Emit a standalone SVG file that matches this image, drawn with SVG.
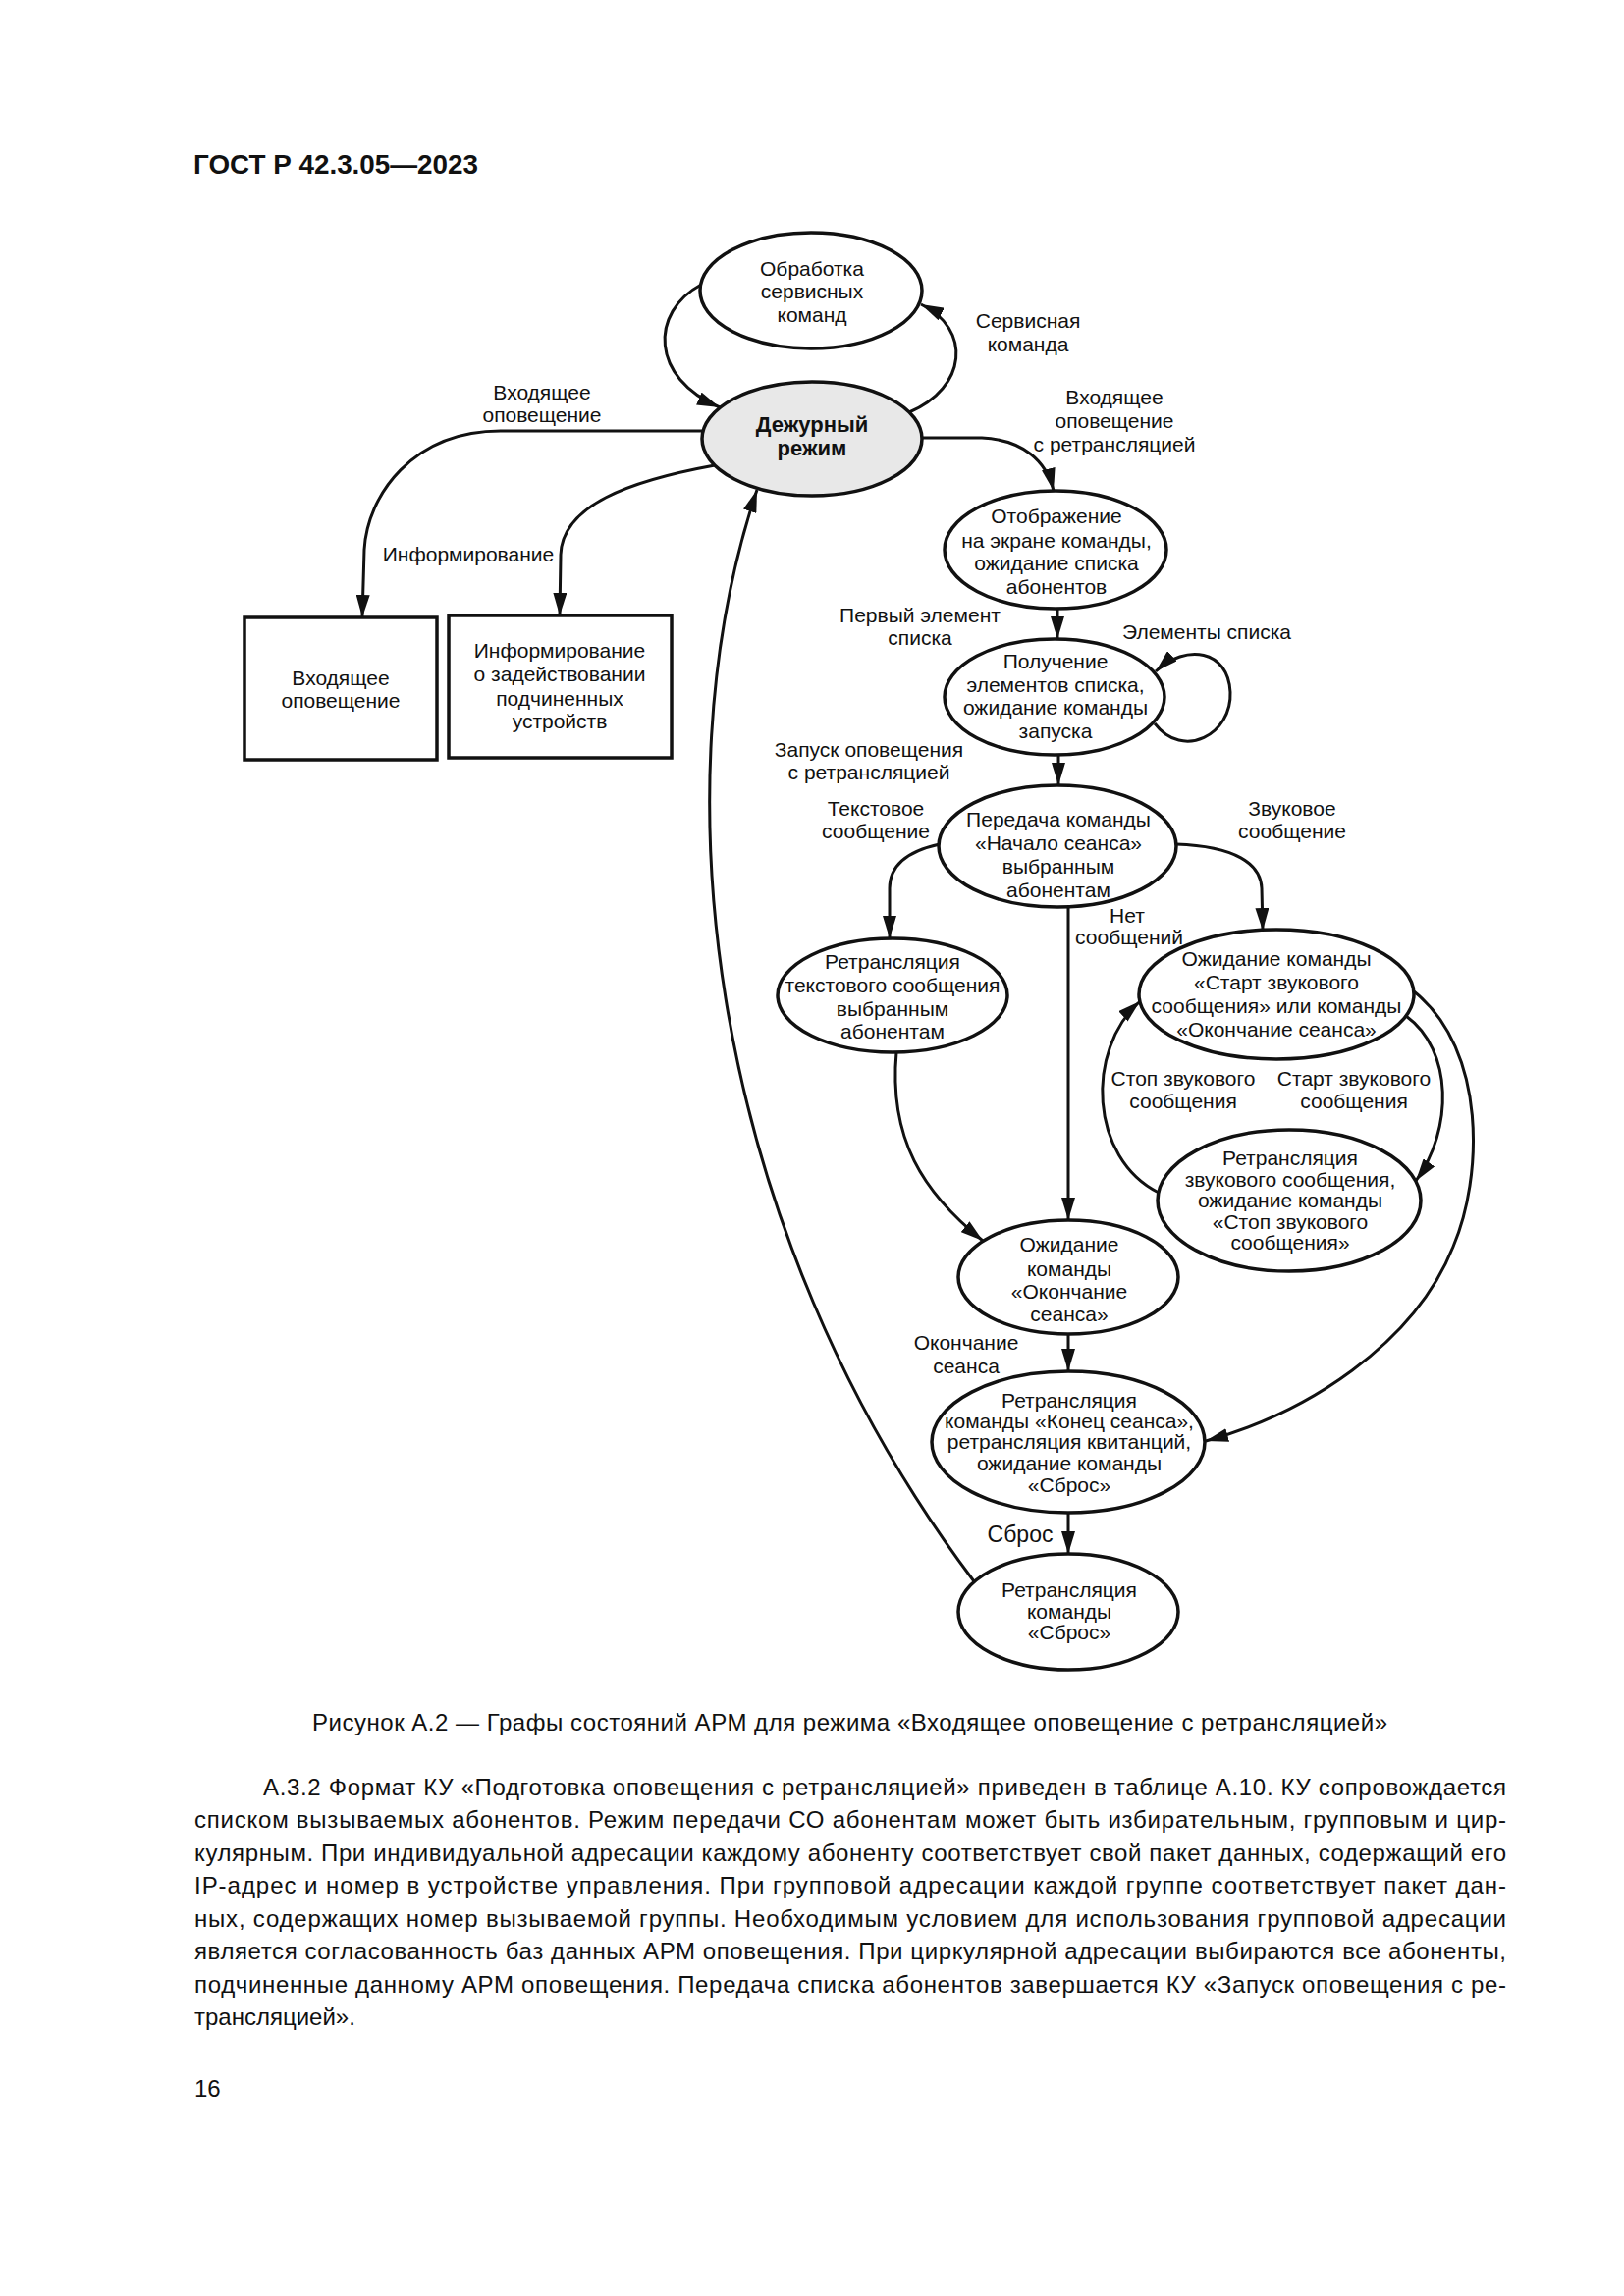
<svg xmlns="http://www.w3.org/2000/svg" width="1654" height="2339" viewBox="0 0 1654 2339">
<defs>
<style>
text{font-family:"Liberation Sans",Arial,sans-serif;fill:#111}
.t{font-size:21px;text-anchor:middle}
.b{font-size:22px;font-weight:bold;text-anchor:middle}
.node{fill:#fff;stroke:#111;stroke-width:3.5}
.gray{fill:#e8e8e8}
.c{fill:none;stroke:#111;stroke-width:3;marker-end:url(#ah)}
.p{font-size:24px}
</style>
<marker id="ah" markerUnits="userSpaceOnUse" markerWidth="24" markerHeight="14" refX="23" refY="7" orient="auto">
<path d="M0,0 L23,7 L0,14 z" fill="#111"/>
</marker>
</defs>
<rect width="1654" height="2339" fill="#fff"/>
<text x="197" y="177" style="font-size:27px;font-weight:bold" textLength="290" lengthAdjust="spacingAndGlyphs">ГОСТ Р 42.3.05—2023</text>

<g id="connectors">
<path class="c" d="M714 290 C662 318 662 385 733 415"/>
<path class="c" d="M926 420 C985 395 990 335 938 310"/>
<path class="c" d="M939 446 L1000 446 C1042 448 1066 470 1073 500"/>
<path class="c" d="M715 439 L510 439 C420 439 374 505 371 560 L369 629"/>
<path class="c" d="M728 474 C640 490 573 515 571 565 L570 627"/>
<path class="c" d="M1077 620 L1077 651"/>
<path class="c" d="M1176 737 C1205 775 1255 748 1253 705 C1251 662 1208 655 1177 684"/>
<path class="c" d="M1078 769 L1078 800"/>
<path class="c" d="M957 860 C920 868 906 885 906 905 L906 956"/>
<path class="c" d="M1198 860 C1258 862 1284 880 1285 905 L1286 948"/>
<path class="c" d="M1088 924 L1088 1243"/>
<path class="c" d="M913 1072 C905 1160 940 1215 1001 1264"/>
<path class="c" d="M1432 1035 C1480 1070 1480 1150 1442 1203"/>
<path class="c" d="M1180 1215 C1110 1180 1105 1070 1161 1020"/>
<path class="c" d="M1440 1010 C1515 1070 1510 1200 1480 1270 C1440 1370 1330 1440 1228 1468"/>
<path class="c" d="M1088 1359 L1088 1397"/>
<path class="c" d="M1088 1541 L1088 1583"/>
<path class="c" d="M992 1611 C720 1250 670 800 771 499"/>
</g>

<g id="labels">
<text class="t" x="1047" y="334">Сервисная</text>
<text class="t" x="1047" y="358">команда</text>
<text class="t" x="1135" y="412">Входящее</text>
<text class="t" x="1135" y="436">оповещение</text>
<text class="t" x="1135" y="460">с ретрансляцией</text>
<text class="t" x="552" y="407">Входящее</text>
<text class="t" x="552" y="430">оповещение</text>
<text class="t" x="477" y="572">Информирование</text>
<text class="t" x="937" y="634">Первый элемент</text>
<text class="t" x="937" y="657">списка</text>
<text class="t" x="1229" y="651">Элементы списка</text>
<text class="t" x="885" y="771">Запуск оповещения</text>
<text class="t" x="885" y="794">с ретрансляцией</text>
<text class="t" x="892" y="831">Текстовое</text>
<text class="t" x="892" y="854">сообщение</text>
<text class="t" x="1316" y="831">Звуковое</text>
<text class="t" x="1316" y="854">сообщение</text>
<text class="t" x="1148" y="940">Нет</text>
<text class="t" x="1150" y="962">сообщений</text>
<text class="t" x="1205" y="1106">Стоп звукового</text>
<text class="t" x="1205" y="1129">сообщения</text>
<text class="t" x="1379" y="1106">Старт звукового</text>
<text class="t" x="1379" y="1129">сообщения</text>
<text class="t" x="984" y="1375">Окончание</text>
<text class="t" x="984" y="1399">сеанса</text>
<text class="t" x="1039" y="1571" style="font-size:23px">Сброс</text>
</g>

<g id="n-service">
<ellipse class="node" cx="826" cy="296" rx="113" ry="59"/>
<text class="t" x="827" y="281">Обработка</text>
<text class="t" x="827" y="304">сервисных</text>
<text class="t" x="827" y="328">команд</text>
</g>
<g id="n-duty">
<ellipse class="node gray" cx="827" cy="447" rx="112" ry="58"/>
<text class="b" x="827" y="440">Дежурный</text>
<text class="b" x="827" y="464">режим</text>
</g>
<g id="n-display">
<ellipse class="node" cx="1075" cy="560" rx="113" ry="60"/>
<text class="t" x="1076" y="533">Отображение</text>
<text class="t" x="1076" y="558">на экране команды,</text>
<text class="t" x="1076" y="581">ожидание списка</text>
<text class="t" x="1076" y="605">абонентов</text>
</g>
<g id="n-receive">
<ellipse class="node" cx="1074" cy="710" rx="112" ry="59"/>
<text class="t" x="1075" y="681">Получение</text>
<text class="t" x="1075" y="705">элементов списка,</text>
<text class="t" x="1075" y="728">ожидание команды</text>
<text class="t" x="1075" y="752">запуска</text>
</g>
<g id="n-start">
<ellipse class="node" cx="1077" cy="862" rx="121" ry="62"/>
<text class="t" x="1078" y="842">Передача команды</text>
<text class="t" x="1078" y="866">«Начало сеанса»</text>
<text class="t" x="1078" y="890">выбранным</text>
<text class="t" x="1078" y="914">абонентам</text>
</g>
<g id="n-text">
<ellipse class="node" cx="909" cy="1014" rx="117" ry="58"/>
<text class="t" x="909" y="987">Ретрансляция</text>
<text class="t" x="909" y="1011">текстового сообщения</text>
<text class="t" x="909" y="1035">выбранным</text>
<text class="t" x="909" y="1058">абонентам</text>
</g>
<g id="n-waitsound">
<ellipse class="node" cx="1300" cy="1013" rx="140" ry="66"/>
<text class="t" x="1300" y="984">Ожидание команды</text>
<text class="t" x="1300" y="1008">«Старт звукового</text>
<text class="t" x="1300" y="1032">сообщения» или команды</text>
<text class="t" x="1300" y="1056">«Окончание сеанса»</text>
</g>
<g id="n-sound">
<ellipse class="node" cx="1313" cy="1223" rx="134" ry="72"/>
<text class="t" x="1314" y="1187">Ретрансляция</text>
<text class="t" x="1314" y="1209">звукового сообщения,</text>
<text class="t" x="1314" y="1230">ожидание команды</text>
<text class="t" x="1314" y="1252">«Стоп звукового</text>
<text class="t" x="1314" y="1273">сообщения»</text>
</g>
<g id="n-waitend">
<ellipse class="node" cx="1088" cy="1301" rx="112" ry="58"/>
<text class="t" x="1089" y="1275">Ожидание</text>
<text class="t" x="1089" y="1300">команды</text>
<text class="t" x="1089" y="1323">«Окончание</text>
<text class="t" x="1089" y="1346">сеанса»</text>
</g>
<g id="n-end">
<ellipse class="node" cx="1088" cy="1469" rx="139" ry="72"/>
<text class="t" x="1089" y="1434">Ретрансляция</text>
<text class="t" x="1089" y="1455">команды «Конец сеанса»,</text>
<text class="t" x="1089" y="1476">ретрансляция квитанций,</text>
<text class="t" x="1089" y="1498">ожидание команды</text>
<text class="t" x="1089" y="1520">«Сброс»</text>
</g>
<g id="n-reset">
<ellipse class="node" cx="1088" cy="1642" rx="112" ry="59"/>
<text class="t" x="1089" y="1627">Ретрансляция</text>
<text class="t" x="1089" y="1649">команды</text>
<text class="t" x="1089" y="1670">«Сброс»</text>
</g>
<g id="n-incoming">
<rect class="node" x="249" y="629" width="196" height="145"/>
<text class="t" x="347" y="698">Входящее</text>
<text class="t" x="347" y="721">оповещение</text>
</g>
<g id="n-inform">
<rect class="node" x="457" y="627" width="227" height="145"/>
<text class="t" x="570" y="670">Информирование</text>
<text class="t" x="570" y="694">о задействовании</text>
<text class="t" x="570" y="719">подчиненных</text>
<text class="t" x="570" y="742">устройств</text>
</g>

<text class="p" x="318" y="1763" textLength="1095" lengthAdjust="spacing">Рисунок А.2 — Графы состояний АРМ для режима «Входящее оповещение с ретрансляцией»</text>
<g id="paragraph" class="p">
<text class="p" x="268" y="1829" textLength="1266" lengthAdjust="spacing">А.3.2  Формат КУ «Подготовка оповещения с ретрансляцией» приведен в таблице  А.10. КУ сопровождается</text>
<text class="p" x="198" y="1862" textLength="1336" lengthAdjust="spacing">списком вызываемых абонентов. Режим передачи СО абонентам может быть избирательным, групповым и цир-</text>
<text class="p" x="198" y="1896" textLength="1336" lengthAdjust="spacing">кулярным. При индивидуальной адресации каждому абоненту соответствует свой пакет данных, содержащий его</text>
<text class="p" x="198" y="1929" textLength="1336" lengthAdjust="spacing">IP-адрес и номер в устройстве управления. При групповой адресации каждой группе соответствует пакет дан-</text>
<text class="p" x="198" y="1963" textLength="1336" lengthAdjust="spacing">ных, содержащих номер вызываемой группы. Необходимым условием для использования групповой адресации</text>
<text class="p" x="198" y="1996" textLength="1336" lengthAdjust="spacing">является согласованность баз данных АРМ оповещения. При циркулярной адресации выбираются все абоненты,</text>
<text class="p" x="198" y="2030" textLength="1336" lengthAdjust="spacing">подчиненные данному АРМ оповещения. Передача списка абонентов завершается КУ «Запуск оповещения с ре-</text>
<text class="p" x="198" y="2063">трансляцией».</text>
</g>
<text class="p" x="198" y="2136">16</text>
</svg>
